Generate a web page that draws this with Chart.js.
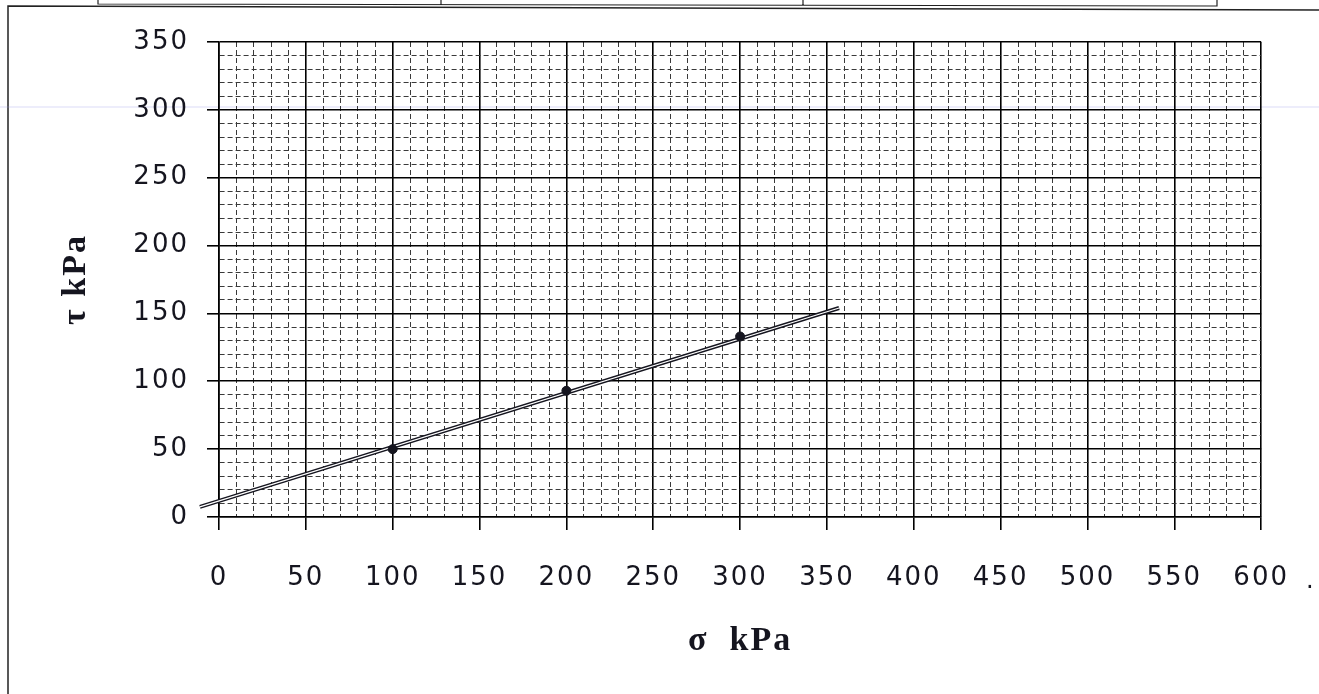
<!DOCTYPE html>
<html>
<head>
<meta charset="utf-8">
<script src="https://cdn.jsdelivr.net/npm/chart.js@4.4.1/dist/chart.umd.min.js"></script>
<style>
  html, body { margin: 0; padding: 0; background: #fff; }
  #wrap { width: 1319px; height: 694px; }
</style>
</head>
<body>
<div id="wrap"><canvas id="myChart" width="1319" height="694"></canvas></div>
<script>
// measured points (sigma, tau) in kPa
const sigma = [100, 200, 300];
const tau = [50, 93, 133];

const lineSigma = [-11, 357];
const lineTau = [7.5, 154];

const xTickLabels = ['0', '50', '100', '150', '200', '250', '300', '350', '400', '450', '500', '550', '600'];
const yTickLabels = ['0', '50', '100', '150', '200', '250', '300', '350'];

const ink = '#15151f';

const isMajor = (c, labels) => c.tick && labels.includes(String(c.tick.value));

// scan decorations: frame, table edge above, stray marks
const paperPlugin = {
  id: 'paper',
  beforeDraw(chart) {
    const c = chart.ctx;
    c.save();
    c.fillStyle = '#fff';
    c.fillRect(0, 0, chart.width, chart.height);
    c.strokeStyle = '#222';
    c.lineWidth = 1.5;
    c.beginPath();
    c.moveTo(8, 694); c.lineTo(8, 6);
    c.lineTo(1319, 10);
    c.stroke();
    c.lineWidth = 1.2;
    c.beginPath();
    c.moveTo(98, 0); c.lineTo(98, 4); c.lineTo(1217, 6); c.lineTo(1217, 0);
    c.moveTo(441, 0); c.lineTo(441, 5);
    c.moveTo(803, 0); c.lineTo(803, 5);
    c.stroke();
    c.strokeStyle = 'rgba(150,150,230,0.35)';
    c.lineWidth = 1;
    c.beginPath();
    c.moveTo(0, 107); c.lineTo(1319, 107);
    c.stroke();
    c.restore();
    c.letterSpacing = '2px';
  },
  afterDraw(chart) {
    const c = chart.ctx;
    c.save();
    c.fillStyle = ink;
    c.font = '24px "DejaVu Sans"';
    c.fillText('.', 1306, 588);
    c.restore();
  }
};

new Chart(document.getElementById('myChart'), {
  type: 'scatter',
  data: {
    datasets: [
      {
        label: 'tests',
        data: sigma.map((s, i) => ({ x: s, y: tau[i] })),
        backgroundColor: ink,
        borderColor: ink,
        pointRadius: 4.5,
        order: 0
      },
      {
        label: 'line inner',
        data: lineSigma.map((s, i) => ({ x: s, y: lineTau[i] })),
        showLine: true,
        borderColor: '#fff',
        borderWidth: 1.3,
        pointRadius: 0,
        clip: false,
        order: 1
      },
      {
        label: 'line',
        data: lineSigma.map((s, i) => ({ x: s, y: lineTau[i] })),
        showLine: true,
        borderColor: ink,
        borderWidth: 4,
        pointRadius: 0,
        clip: false,
        order: 2
      }
    ]
  },
  options: {
    responsive: false,
    animation: false,
    layout: { padding: { left: 10, right: 56, top: 42, bottom: 10 } },
    plugins: {
      legend: { display: false },
      tooltip: { enabled: false }
    },
    scales: {
      x: {
        type: 'linear',
        min: 0,
        max: 600,
        afterFit(scale) { scale.height = 167; },
        ticks: {
          stepSize: 10,
          autoSkip: false,
          maxRotation: 0,
          padding: 33,
          color: ink,
          font: { family: '"DejaVu Sans"', size: 26 },
          callback: v => xTickLabels.includes(String(v)) ? String(v) : ''
        },
        grid: {
          color: c => isMajor(c, xTickLabels) ? '#000' : '#3a3a3a',
          lineWidth: c => isMajor(c, xTickLabels) ? 1.6 : 1,
          tickColor: c => isMajor(c, xTickLabels) ? '#000' : 'rgba(0,0,0,0)',
          tickLength: 13
        },
        border: {
          color: '#000',
          width: 1.6,
          dash: c => isMajor(c, xTickLabels) ? [] : [5, 3]
        },
        title: {
          display: true,
          text: 'σ  kPa',
          color: ink,
          font: { family: '"Liberation Serif"', size: 34, weight: 'bold', lineHeight: 1.2 },
          padding: { top: 0, bottom: 22 }
        }
      },
      y: {
        type: 'linear',
        min: 0,
        max: 350,
        afterFit(scale) { scale.width = 209; },
        ticks: {
          stepSize: 10,
          autoSkip: false,
          padding: 18,
          color: ink,
          font: { family: '"DejaVu Sans"', size: 26 },
          callback: v => yTickLabels.includes(String(v)) ? String(v) : ''
        },
        grid: {
          color: c => isMajor(c, yTickLabels) ? '#000' : '#3a3a3a',
          lineWidth: c => isMajor(c, yTickLabels) ? 1.6 : 1,
          tickColor: c => isMajor(c, yTickLabels) ? '#000' : 'rgba(0,0,0,0)',
          tickLength: 12
        },
        border: {
          color: '#000',
          width: 1.6,
          dash: c => isMajor(c, yTickLabels) ? [] : [5, 3]
        },
        title: {
          display: true,
          text: 'τ kPa',
          color: ink,
          font: { family: '"Liberation Serif"', size: 34, weight: 'bold', lineHeight: 1.2 },
          padding: { top: 46, bottom: 0 }
        }
      }
    }
  },
  plugins: [paperPlugin]
});
</script>
</body>
</html>
